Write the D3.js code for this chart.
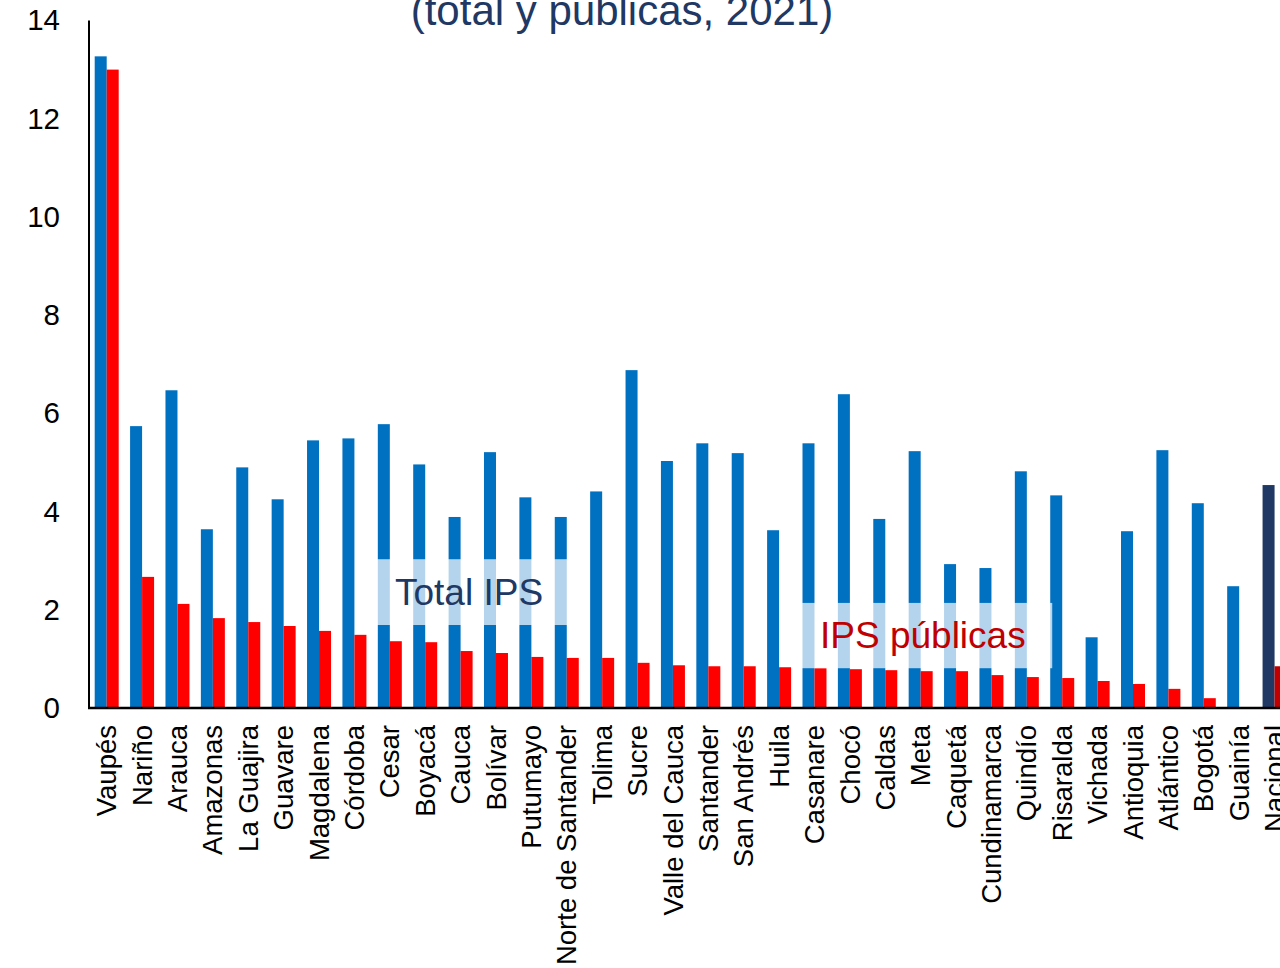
<!DOCTYPE html>
<html><head><meta charset="utf-8">
<script src="https://cdn.jsdelivr.net/npm/d3@7"></script>
<style>
html,body{margin:0;padding:0;background:#fff;overflow:hidden;}
svg{display:block;font-family:"Liberation Sans",Arial,sans-serif;}
</style></head>
<body>
<svg id="chart" width="1280" height="968"></svg>
<script>
const categories = ["Vaupés","Nariño","Arauca","Amazonas","La Guajira","Guavare","Magdalena","Córdoba","Cesar","Boyacá","Cauca","Bolívar","Putumayo","Norte de Santander","Tolima","Sucre","Valle del Cauca","Santander","San Andrés","Huila","Casanare","Chocó","Caldas","Meta","Caquetá","Cundinamarca","Quindío","Risaralda","Vichada","Antioquia","Atlántico","Bogotá","Guainía","Nacional"];
const totalIPS = [13.27,5.74,6.47,3.64,4.90,4.25,5.45,5.49,5.78,4.96,3.89,5.21,4.29,3.89,4.41,6.88,5.03,5.39,5.19,3.62,5.39,6.39,3.85,5.23,2.93,2.85,4.82,4.33,1.44,3.60,5.25,4.17,2.48,4.54];
const ipsPublicas = [13.00,2.67,2.12,1.83,1.75,1.67,1.57,1.49,1.36,1.34,1.16,1.12,1.04,1.02,1.02,0.92,0.87,0.85,0.85,0.83,0.81,0.79,0.77,0.75,0.75,0.67,0.63,0.61,0.55,0.49,0.39,0.20,0,0.85];
const yTicks = [0,2,4,6,8,10,12,14];
const seriesNames = ["Total IPS","IPS públicas"];
const titleText = "(total y públicas, 2021)";

const svg = d3.select("#chart");
const x0 = 89, yZero = 708, yTop = 20.5;
const step = 35.39;
const x = d3.scaleBand().domain(categories).range([x0, x0 + step*categories.length]).paddingInner(0.322).paddingOuter(0.161);
const xs = d3.scaleBand().domain(seriesNames).range([0, x.bandwidth()]);
const y = d3.scaleLinear().domain([0,14]).range([yZero, yTop]);

const colors = {"Total IPS":"#0070C0","IPS públicas":"#FF0000"};
const natColors = {"Total IPS":"#203864","IPS públicas":"#C00000"};

// title
svg.append("text").attr("x",622).attr("y",25).attr("text-anchor","middle")
  .attr("font-size",42).attr("fill","#203864").text(titleText);

// bars
const rows = categories.map((c,i)=>({cat:c, vals:[{s:"Total IPS",v:totalIPS[i]},{s:"IPS públicas",v:ipsPublicas[i]}]}));
const g = svg.append("g");
rows.forEach(r=>{
  r.vals.forEach(d=>{
    if(d.v<=0) return;
    g.append("rect")
      .attr("x", x(r.cat)+xs(d.s))
      .attr("width", xs.bandwidth())
      .attr("y", y(d.v))
      .attr("height", yZero - y(d.v))
      .attr("fill", r.cat==="Nacional" ? natColors[d.s] : colors[d.s]);
  });
});

// legend-like labels with translucent white boxes
const b1x0 = x("Cesar") - 6, b1x1 = x("Norte de Santander") + x.bandwidth() + 6;
svg.append("rect").attr("x",b1x0).attr("y",y(3.03)).attr("width",b1x1-b1x0).attr("height",y(1.69)-y(3.03))
  .attr("fill","#fff").attr("opacity",0.7);
svg.append("text").attr("x",395).attr("y",605).attr("font-size",37).attr("fill","#203864").text("Total IPS");

const b2x0 = x("Casanare") - 6, b2x1 = x("Risaralda") + 2;
svg.append("rect").attr("x",b2x0).attr("y",y(2.14)).attr("width",b2x1-b2x0).attr("height",y(0.81)-y(2.14))
  .attr("fill","#fff").attr("opacity",0.7);
svg.append("text").attr("x",820).attr("y",648).attr("font-size",37).attr("fill","#C00000").text("IPS públicas");

// axes
svg.append("line").attr("x1",x0).attr("x2",x0).attr("y1",yTop).attr("y2",yZero+1).attr("stroke","#000").attr("stroke-width",2);
svg.append("line").attr("x1",x0-1).attr("x2",1290).attr("y1",yZero).attr("y2",yZero).attr("stroke","#000").attr("stroke-width",2.5);

const yAxis = d3.axisLeft(y).tickValues(yTicks).tickSize(0).tickPadding(29).tickFormat(d3.format("d"));
const ya = svg.append("g").attr("transform",`translate(${x0},0)`).call(yAxis);
ya.select(".domain").remove();
ya.selectAll("text").attr("font-size",29.5).attr("fill","#000").attr("font-family","Liberation Sans, Arial, sans-serif");

const xAxis = d3.axisBottom(x).tickSize(0).tickPadding(0);
const xa = svg.append("g").attr("transform",`translate(0,${yZero})`).call(xAxis);
xa.select(".domain").remove();
xa.selectAll("text")
  .attr("font-size",27.5).attr("fill","#000").attr("font-family","Liberation Sans, Arial, sans-serif")
  .attr("transform","rotate(-90)")
  .attr("text-anchor","end")
  .attr("x",-17).attr("y",0).attr("dy","0.35em");
</script>
</body></html>
